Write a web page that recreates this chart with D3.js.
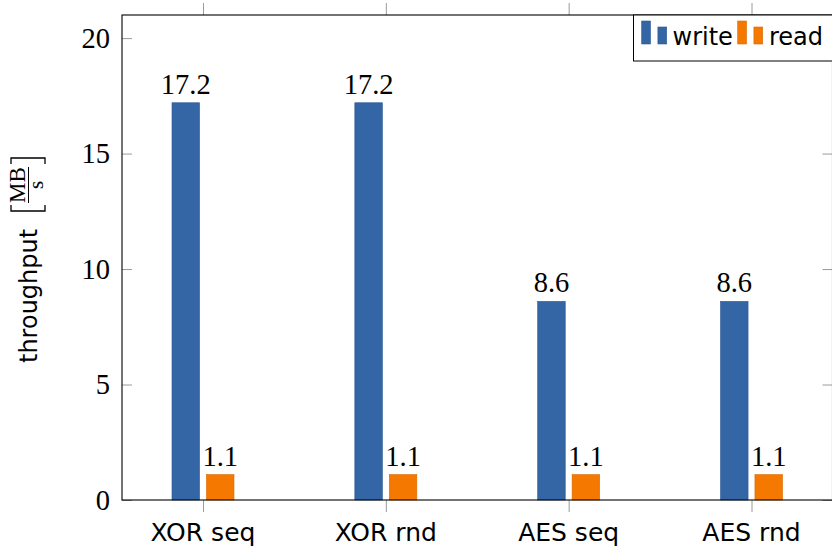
<!DOCTYPE html>
<html>
<head>
<meta charset="utf-8">
<script src="https://cdn.jsdelivr.net/npm/d3@7"></script>
<style>
  html, body { margin: 0; padding: 0; background: #fff; }
  svg { display: block; }
</style>
</head>
<body>
<svg id="chart" width="832" height="548"></svg>
<script>
// Throughput per cipher mode and access pattern
const categories = ["XOR seq", "XOR rnd", "AES seq", "AES rnd"];
const seriesNames = ["write", "read"];
const writeValues = [17.2, 17.2, 8.6, 8.6];
const readValues = [1.1, 1.1, 1.1, 1.1];
const yTicks = [0, 5, 10, 15, 20];

const colors = { write: "#3465a4", read: "#f57900" };
const strokes = { write: "#2d5a96", read: "#d96a00" };

const svg = d3.select("#chart");
const plotLeft = 122, plotRight = 832.5, plotTop = 15, plotBottom = 500;

const x = d3.scalePoint().domain(categories).range([plotLeft, plotRight]).padding(0.443);
const sub = d3.scaleBand().domain(seriesNames).range([-31, 31]).paddingInner(0.2);
const y = d3.scaleLinear().domain([0, 21]).range([plotBottom, plotTop]);

const serif = "'Liberation Serif', 'DejaVu Serif', serif";
const sans = "'DejaVu Sans', sans-serif";

const rows = categories.map((c, i) => ({ cat: c, write: writeValues[i], read: readValues[i] }));

// bars
const groups = svg.append("g").selectAll("g").data(rows).join("g")
  .attr("transform", d => `translate(${x(d.cat)},0)`);

groups.selectAll("rect").data(d => seriesNames.map(s => ({ s, v: d[s] }))).join("rect")
  .attr("x", d => sub(d.s))
  .attr("width", sub.bandwidth())
  .attr("y", d => y(d.v))
  .attr("height", d => y(0) - y(d.v))
  .attr("fill", d => colors[d.s])
  .attr("stroke", d => strokes[d.s])
  .attr("stroke-width", 0.6);

groups.selectAll("text.val").data(d => seriesNames.map(s => ({ s, v: d[s] }))).join("text")
  .attr("class", "val")
  .attr("x", d => sub(d.s) + sub.bandwidth() / 2)
  .attr("y", d => y(d.v) - 9)
  .attr("text-anchor", "middle")
  .style("font-family", serif)
  .style("font-size", "28.5px")
  .attr("fill", "#000")
  .text(d => d.v.toFixed(1));

// y axis ticks (inward on both sides)
const tickColor = "#9a9a9a";
const yAxisL = d3.axisRight(y).tickValues(yTicks).tickSize(10).tickFormat("");
const yAxisR = d3.axisLeft(y).tickValues(yTicks).tickSize(10).tickFormat("");
svg.append("g").attr("transform", `translate(${plotLeft},0)`).call(yAxisL)
  .call(g => g.select(".domain").remove())
  .call(g => g.selectAll("line").attr("stroke", tickColor));
svg.append("g").attr("transform", `translate(${plotRight},0)`).call(yAxisR)
  .call(g => g.select(".domain").remove())
  .call(g => g.selectAll("line").attr("stroke", tickColor));

// y tick labels
svg.append("g").selectAll("text").data(yTicks).join("text")
  .attr("x", 110)
  .attr("y", d => y(d))
  .attr("dy", "0.34em")
  .attr("text-anchor", "end")
  .style("font-family", serif)
  .style("font-size", "28.5px")
  .text(d => d);

// x axis ticks (outward top and bottom)
const xAxisB = d3.axisBottom(x).tickSize(12).tickFormat("");
const xAxisT = d3.axisTop(x).tickSize(12).tickFormat("");
svg.append("g").attr("transform", `translate(0,${plotBottom})`).call(xAxisB)
  .call(g => g.select(".domain").remove())
  .call(g => g.selectAll("line").attr("stroke", tickColor));
svg.append("g").attr("transform", `translate(0,${plotTop})`).call(xAxisT)
  .call(g => g.select(".domain").remove())
  .call(g => g.selectAll("line").attr("stroke", tickColor));

// category labels
svg.append("g").selectAll("text").data(categories).join("text")
  .attr("x", d => x(d))
  .attr("y", 541)
  .attr("text-anchor", "middle")
  .style("font-family", sans)
  .style("font-size", "25px")
  .text(d => d);

// frame
svg.append("rect")
  .attr("x", plotLeft).attr("y", plotTop)
  .attr("width", plotRight - plotLeft).attr("height", plotBottom - plotTop)
  .attr("fill", "none").attr("stroke", "#000").attr("stroke-width", 1.1);

// legend
const lg = svg.append("g");
lg.append("rect").attr("x", 633.5).attr("y", plotTop).attr("width", 200).attr("height", 46)
  .attr("fill", "#fff").attr("stroke", "#000").attr("stroke-width", 1);
const legendItems = [
  { s: "write", x0: 641.7, tx: 672.5 },
  { s: "read", x0: 737.7, tx: 769 }
];
legendItems.forEach(it => {
  lg.append("rect").attr("x", it.x0).attr("y", 21).attr("width", 8.8).attr("height", 23)
    .attr("fill", colors[it.s]).attr("stroke", strokes[it.s]).attr("stroke-width", 0.6);
  lg.append("rect").attr("x", it.x0 + 16.2).attr("y", 27).attr("width", 8.8).attr("height", 17)
    .attr("fill", colors[it.s]).attr("stroke", strokes[it.s]).attr("stroke-width", 0.6);
  lg.append("text").attr("x", it.tx).attr("y", 45)
    .style("font-family", sans).style("font-size", "24px").text(it.s);
});

// y axis title: throughput [MB/s]
const yl = svg.append("g").attr("transform", "translate(37,258) rotate(-90)");
yl.append("text").attr("x", -105).attr("y", 0)
  .style("font-family", sans).style("font-size", "24px").text("throughput");
// left bracket
yl.append("path").attr("d", "M53,-26 L47,-26 L47,8 L53,8")
  .attr("fill", "none").attr("stroke", "#000").attr("stroke-width", 1.3);
// right bracket
yl.append("path").attr("d", "M94,-26 L100,-26 L100,8 L94,8")
  .attr("fill", "none").attr("stroke", "#000").attr("stroke-width", 1.3);
// fraction
yl.append("line").attr("x1", 55).attr("x2", 91).attr("y1", -8.5).attr("y2", -8.5)
  .attr("stroke", "#000").attr("stroke-width", 1);
yl.append("text").attr("x", 73).attr("y", -12).attr("text-anchor", "middle")
  .style("font-family", serif).style("font-size", "23px").text("MB");
yl.append("text").attr("x", 73).attr("y", 5.5).attr("text-anchor", "middle")
  .style("font-family", serif).style("font-size", "21px").text("s");
</script>
</body>
</html>
